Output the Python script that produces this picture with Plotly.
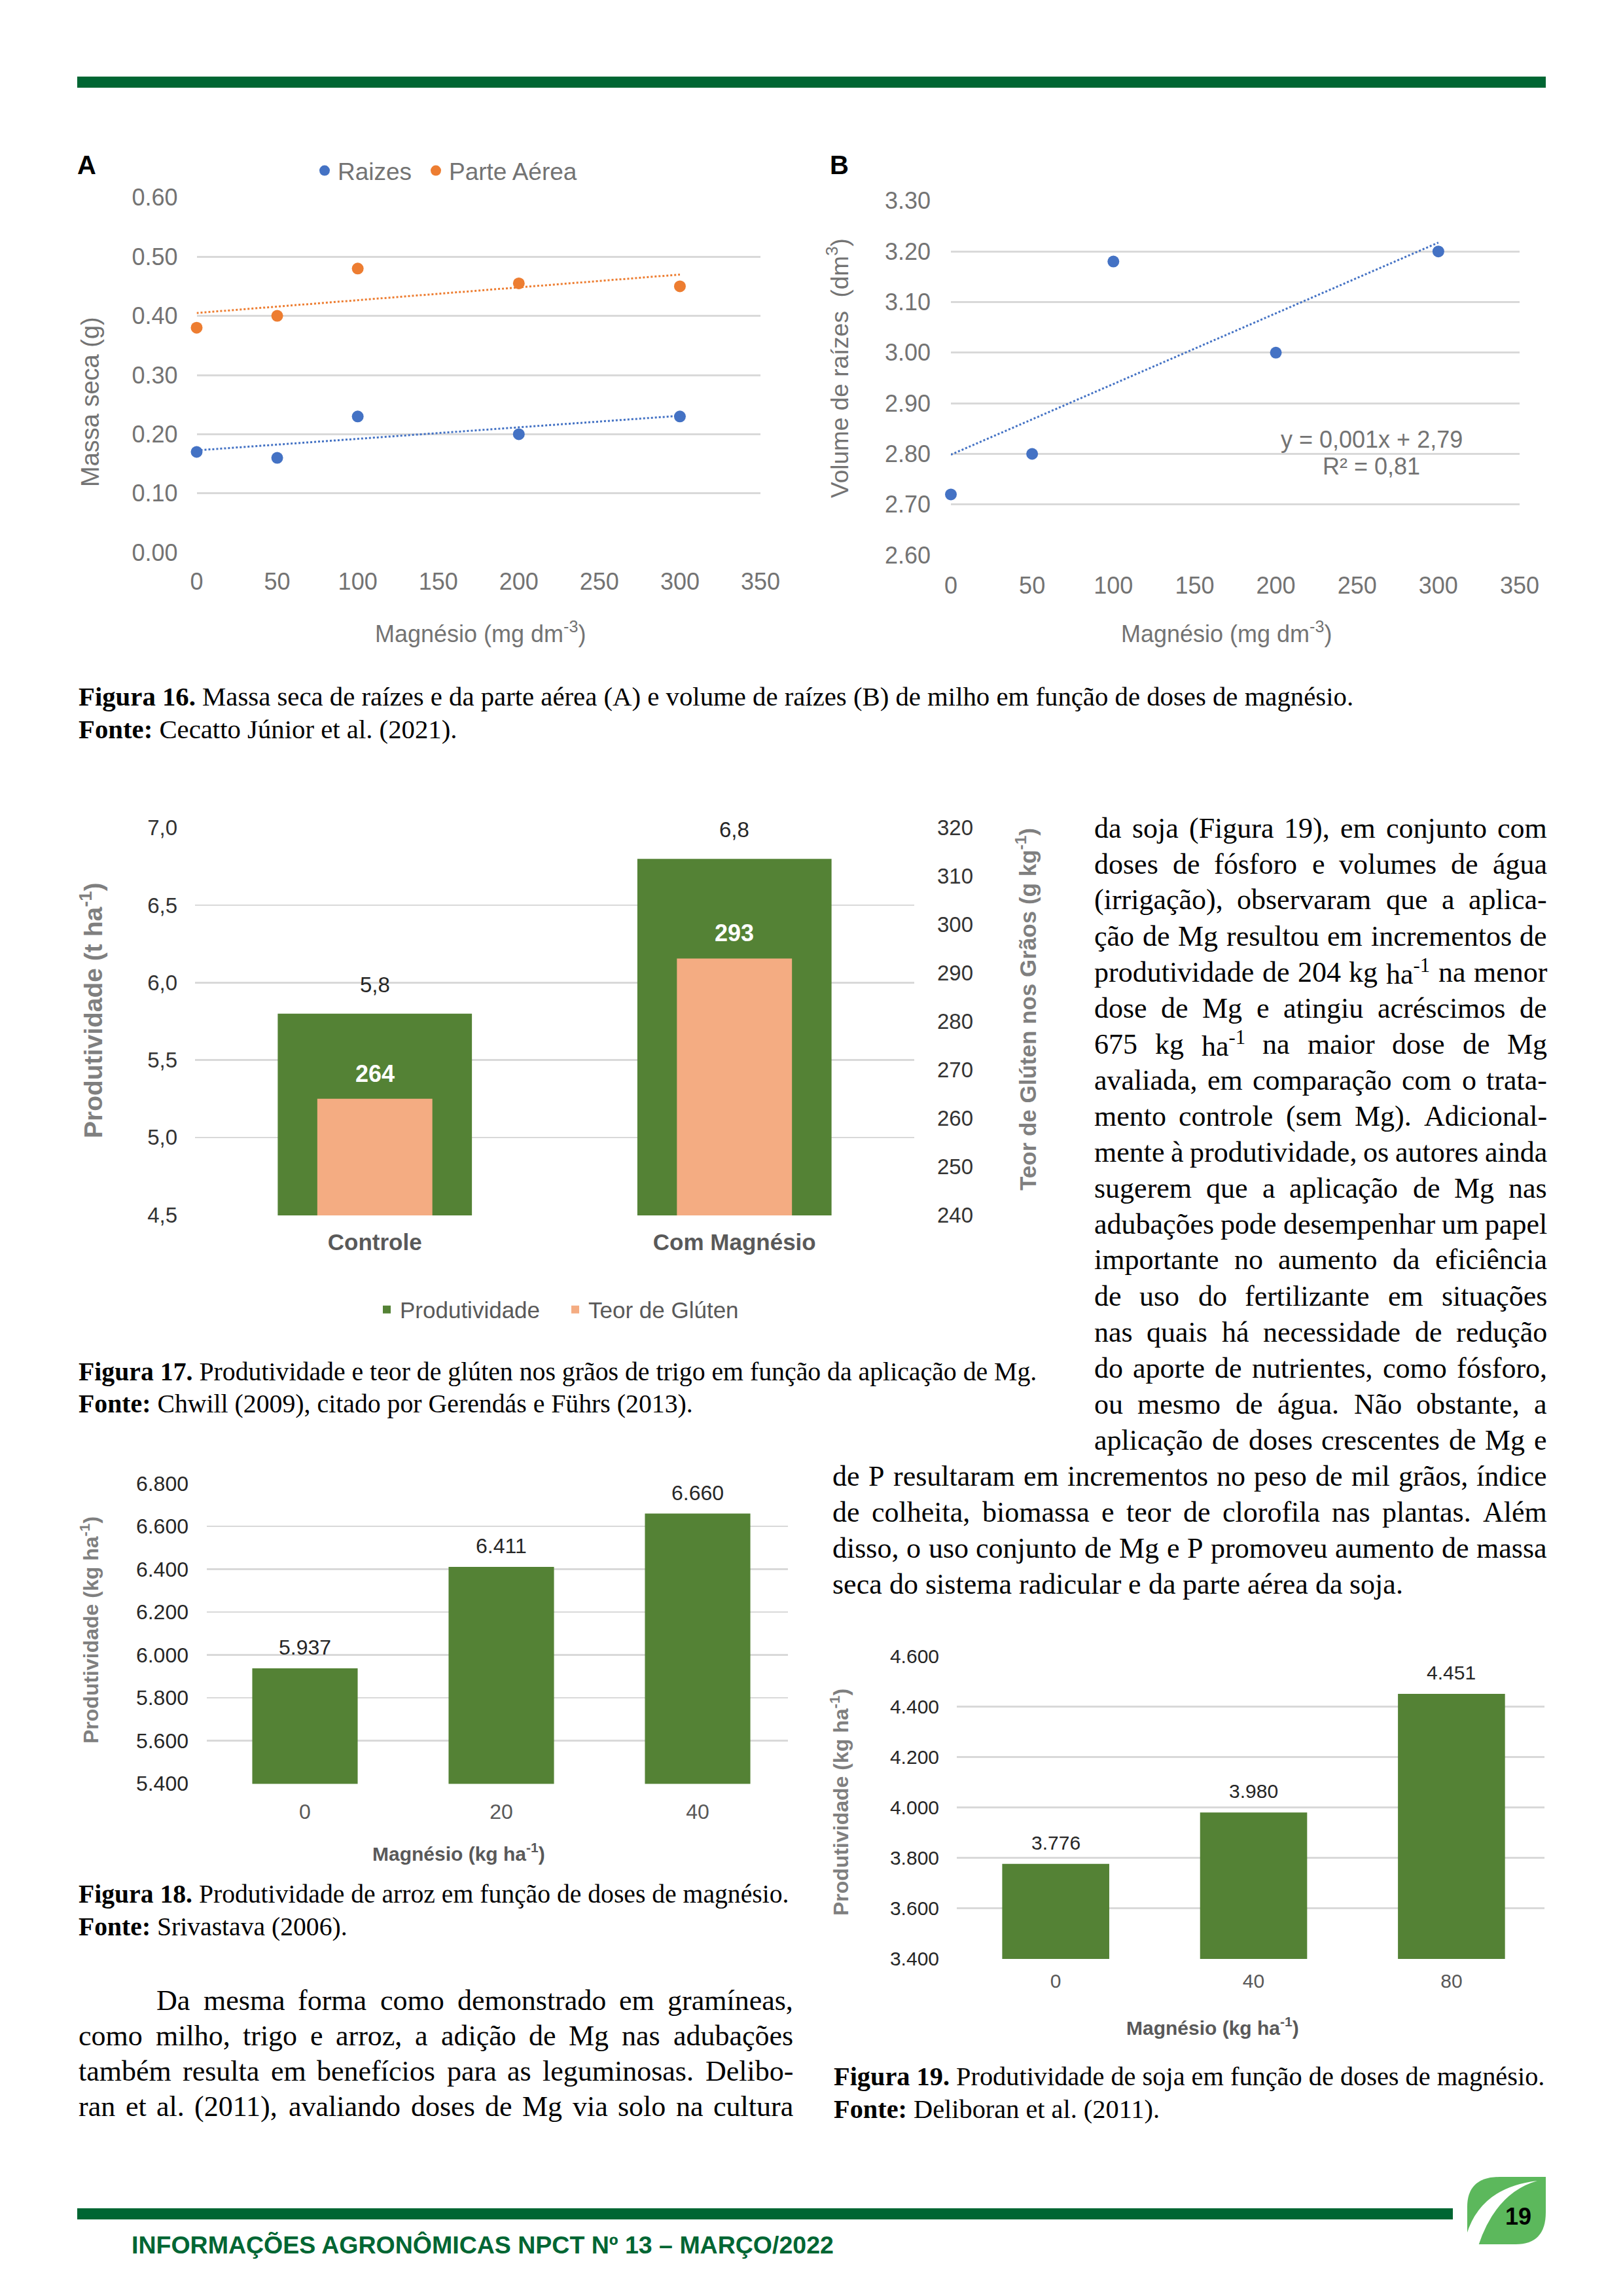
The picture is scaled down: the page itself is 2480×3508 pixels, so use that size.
import unicodedata
import numpy as np
import plotly.graph_objects as go

W, H = 2480, 3508

# ---------------- DATA ----------------
# Figura 16 A
mg_16 = [0, 50, 100, 200, 300]
raizes = [0.17, 0.16, 0.23, 0.20, 0.23]
parte_aerea = [0.38, 0.40, 0.48, 0.455, 0.45]
ticks_16a_y = [0.0, 0.1, 0.2, 0.3, 0.4, 0.5, 0.6]
ticks_16_x = [0, 50, 100, 150, 200, 250, 300, 350]
# Figura 16 B
volume_raizes = [2.72, 2.80, 3.18, 3.00, 3.20]
ticks_16b_y = [2.6, 2.7, 2.8, 2.9, 3.0, 3.1, 3.2, 3.3]
eq_b = "y = 0,001x + 2,79"
r2_b = "R² = 0,81"
# Figura 17
tratamentos = ["Controle", "Com Magnésio"]
produtividade_trigo = [5.8, 6.8]
teor_gluten = [264, 293]
ticks_17_left = [4.5, 5.0, 5.5, 6.0, 6.5, 7.0]
ticks_17_right = [240, 250, 260, 270, 280, 290, 300, 310, 320]
# Figura 18
doses_arroz = ["0", "20", "40"]
produtividade_arroz = [5937, 6411, 6660]
ticks_18_y = [5400, 5600, 5800, 6000, 6200, 6400, 6600, 6800]
# Figura 19
doses_soja = ["0", "40", "80"]
produtividade_soja = [3776, 3980, 4451]
ticks_19_y = [3400, 3600, 3800, 4000, 4200, 4400, 4600]

# ---------------- TEXT ----------------
body_right_narrow = [
    "da soja (Figura 19), em conjunto com",
    "doses de fósforo e volumes de água",
    "(irrigação), observaram que a aplica-",
    "ção de Mg resultou em incrementos de",
    "produtividade de 204 kg ha^-1 na menor",
    "dose de Mg e atingiu acréscimos de",
    "675 kg ha^-1 na maior dose de Mg",
    "avaliada, em comparação com o trata-",
    "mento controle (sem Mg). Adicional-",
    "mente à produtividade, os autores ainda",
    "sugerem que a aplicação de Mg nas",
    "adubações pode desempenhar um papel",
    "importante no aumento da eficiência",
    "de uso do fertilizante em situações",
    "nas quais há necessidade de redução",
    "do aporte de nutrientes, como fósforo,",
    "ou mesmo de água. Não obstante, a",
    "aplicação de doses crescentes de Mg e",
]
body_right_wide = [
    "de P resultaram em incrementos no peso de mil grãos, índice",
    "de colheita, biomassa e teor de clorofila nas plantas. Além",
    "disso, o uso conjunto de Mg e P promoveu aumento de massa",
    "seca do sistema radicular e da parte aérea da soja.",
]
body_left = [
    "Da mesma forma como demonstrado em gramíneas,",
    "como milho, trigo e arroz, a adição de Mg nas adubações",
    "também resulta em benefícios para as leguminosas. Delibo-",
    "ran et al. (2011), avaliando doses de Mg via solo na cultura",
]
captions = [
    ("Figura 16.", "Massa seca de raízes e da parte aérea (A) e volume de raízes (B) de milho em função de doses de magnésio.",
     "Cecatto Júnior et al. (2021).", 118, 2067, 1064, 1114),
    ("Figura 17.", "Produtividade e teor de glúten nos grãos de trigo em função da aplicação de Mg.",
     "Chwill (2009), citado por Gerendás e Führs (2013).", 118, 1583, 2096, 2145),
    ("Figura 18.", "Produtividade de arroz em função de doses de magnésio.",
     "Srivastava (2006).", 118, 1204, 2894, 2944),
    ("Figura 19.", "Produtividade de soja em função de doses de magnésio.",
     "Deliboran et al. (2011).", 1272, 2359, 3172, 3222),
]
footer_text = "INFORMAÇÕES AGRONÔMICAS NPCT Nº 13 – MARÇO/2022"
page_number = "19"

# ---------------- helpers ----------------
SANS = "Liberation Sans, Arial, sans-serif"
SERIF = "Liberation Serif, Times New Roman, serif"
GRID = "#d9d9d9"
GRAY_AB = "#737373"
BLUE = "#4472C4"
ORANGE = "#ED7D31"
GREEN_BAR = "#548235"
SALMON = "#F4AC82"
DARK_GREEN = "#006633"
LEAF = "#5CB85C"


def X(px):
    return px / W


def Y(py):
    return 1 - py / H


TIMES = {' ': 250, '!': 333, '(': 333, ')': 333, ',': 250, '-': 333, '.': 250, ':': 278, ';': 278,
         '/': 278, '0': 500, '1': 500, '2': 500, '3': 500, '4': 500, '5': 500, '6': 500, '7': 500,
         '8': 500, '9': 500,
         'A': 722, 'B': 667, 'C': 667, 'D': 722, 'E': 611, 'F': 556, 'G': 722, 'H': 722, 'I': 333,
         'J': 389, 'K': 722, 'L': 611, 'M': 889, 'N': 722, 'O': 722, 'P': 556, 'Q': 722, 'R': 667,
         'S': 556, 'T': 611, 'U': 722, 'V': 722, 'W': 944, 'X': 722, 'Y': 722, 'Z': 611,
         'a': 444, 'b': 500, 'c': 444, 'd': 500, 'e': 444, 'f': 333, 'g': 500, 'h': 500, 'i': 278,
         'j': 278, 'k': 500, 'l': 278, 'm': 778, 'n': 500, 'o': 500, 'p': 500, 'q': 500, 'r': 333,
         's': 389, 't': 278, 'u': 500, 'v': 500, 'w': 722, 'x': 500, 'y': 500, 'z': 444}
TIMES_B = dict(TIMES)
TIMES_B.update({'F': 611, 'g': 500, 'u': 556, 'r': 444, 'a': 500, 'n': 556, 't': 333, ':': 333})


def cw(c, table=TIMES):
    if c in table:
        return table[c]
    base = unicodedata.normalize('NFD', c)[0]
    return table.get(base, 500)


def text_em(s, table=TIMES):
    return sum(cw(c, table) for c in s) / 1000.0


def word_w(word, fs):
    if '^' in word:
        main, sup = word.split('^')
        return (text_em(main) + 0.7 * text_em(sup)) * fs
    return text_em(word) * fs


def word_html(word):
    if '^' in word:
        main, sup = word.split('^')
        return f"{main}<sup>{sup}</sup>"
    return word


annotations = []


def ann(text, x, y, size, color="#000000", family=SANS, xanchor="center", yanchor="middle", angle=0):
    annotations.append(dict(text=text, x=X(x), y=Y(y), xref="paper", yref="paper", showarrow=False,
                            xanchor=xanchor, yanchor=yanchor, textangle=angle,
                            font=dict(size=size, color=color, family=family)))


def place_line(line, x_left, x_right, y, fs, justify=True):
    words = line.split(' ')
    widths = [word_w(w, fs) for w in words]
    if justify and len(words) > 1:
        gap = (x_right - x_left - sum(widths)) / (len(words) - 1)
    else:
        gap = 0.25 * fs
    x = x_left
    for w, wd in zip(words, widths):
        ann(word_html(w), x, y, fs, "#000000", SERIF, xanchor="left")
        x += wd + gap


def axis(**kw):
    d = dict(showline=False, zeroline=False, ticks="", showgrid=False, fixedrange=True)
    d.update(kw)
    return d


def dom_x(a, b):
    return [X(a), X(b)]


def dom_y(bottom, top):
    return [Y(bottom), Y(top)]


fig = go.Figure()

# ---------------- Figura 16 A ----------------
fig.add_trace(go.Scatter(x=mg_16, y=raizes, mode="markers", name="Raizes", cliponaxis=False,
                         marker=dict(color=BLUE, size=18), xaxis="x", yaxis="y", legend="legend"))
fig.add_trace(go.Scatter(x=mg_16, y=parte_aerea, mode="markers", name="Parte Aérea", cliponaxis=False,
                         marker=dict(color=ORANGE, size=18), xaxis="x", yaxis="y", legend="legend3"))
for ys, col in ((raizes, BLUE), (parte_aerea, ORANGE)):
    k, b0 = np.polyfit(mg_16, ys, 1)
    xs = [mg_16[0], mg_16[-1]]
    fig.add_trace(go.Scatter(x=xs, y=[k * v + b0 for v in xs], mode="lines", showlegend=False,
                             line=dict(color=col, width=3, dash="dot"), xaxis="x", yaxis="y"))

# ---------------- Figura 16 B ----------------
k, b0 = np.polyfit(mg_16, volume_raizes, 1)
xs = [mg_16[0], mg_16[-1]]
fig.add_trace(go.Scatter(x=xs, y=[k * v + b0 for v in xs], mode="lines", showlegend=False,
                         line=dict(color=BLUE, width=3, dash="dot"), xaxis="x2", yaxis="y2"))
fig.add_trace(go.Scatter(x=mg_16, y=volume_raizes, mode="markers", showlegend=False, cliponaxis=False,
                         marker=dict(color=BLUE, size=18), xaxis="x2", yaxis="y2"))

# ---------------- Figura 17 ----------------
fig.add_trace(go.Bar(x=tratamentos, y=produtividade_trigo, name="Produtividade", width=0.54,
                     marker=dict(color=GREEN_BAR, line=dict(width=0)), xaxis="x3", yaxis="y3",
                     legend="legend2"))
fig.add_trace(go.Bar(x=tratamentos, y=teor_gluten, name="Teor de Glúten", width=0.32,
                     marker=dict(color=SALMON, line=dict(width=0)), xaxis="x3", yaxis="y4",
                     legend="legend2"))

# ---------------- Figura 18 ----------------
fig.add_trace(go.Bar(x=doses_arroz, y=produtividade_arroz, width=0.537, showlegend=False,
                     marker=dict(color=GREEN_BAR, line=dict(width=0)), xaxis="x5", yaxis="y5"))
# ---------------- Figura 19 ----------------
fig.add_trace(go.Bar(x=doses_soja, y=produtividade_soja, width=0.541, showlegend=False,
                     marker=dict(color=GREEN_BAR, line=dict(width=0)), xaxis="x6", yaxis="y6"))


def eps(lo, hi):
    e = (hi - lo) * 0.0015
    return [lo - e, hi + e]


legend_a_style = dict(orientation="h", y=Y(261), xanchor="left", yanchor="middle",
                      font=dict(size=37, color=GRAY_AB), bgcolor="rgba(0,0,0,0)", itemsizing="trace")

layout = dict(
    width=W, height=H, margin=dict(l=0, r=0, t=0, b=0, pad=0),
    paper_bgcolor="white", plot_bgcolor="rgba(0,0,0,0)",
    font=dict(family=SANS), template="none", barmode="overlay", hovermode=False,
    # A
    xaxis=axis(domain=dom_x(300.5, 1162), range=[0, 350], tickvals=ticks_16_x,
               ticktext=[str(v) for v in ticks_16_x], tickfont=dict(size=36, color=GRAY_AB),
               anchor="y", ticklabelstandoff=19),
    yaxis=axis(domain=dom_y(845, 301), range=eps(0, 0.6), tickvals=ticks_16a_y,
               ticktext=[f"{v:.2f}" for v in ticks_16a_y], tickfont=dict(size=36, color=GRAY_AB),
               showgrid=True, gridcolor=GRID, gridwidth=3, anchor="x", ticklabelstandoff=28),
    # B
    xaxis2=axis(domain=dom_x(1453, 2322), range=[0, 350], tickvals=ticks_16_x,
                ticktext=[str(v) for v in ticks_16_x], tickfont=dict(size=36, color=GRAY_AB),
                anchor="y2", ticklabelstandoff=21),
    yaxis2=axis(domain=dom_y(849, 306), range=eps(2.6, 3.3), tickvals=ticks_16b_y,
                ticktext=[f"{v:.2f}" for v in ticks_16b_y], tickfont=dict(size=36, color=GRAY_AB),
                showgrid=True, gridcolor=GRID, gridwidth=3, anchor="x2", ticklabelstandoff=30),
    # 17
    xaxis3=axis(domain=dom_x(298, 1397), range=[-0.5, 1.5], type="category",
                tickfont=dict(size=35, color="#595959", weight="bold"), anchor="y3",
                ticklabelstandoff=17),
    yaxis3=axis(domain=dom_y(1857, 1264), range=eps(4.5, 7.0), tickvals=ticks_17_left,
                ticktext=[f"{v:.1f}".replace(".", ",") for v in ticks_17_left],
                tickfont=dict(size=33, color="#333333"), showgrid=True, gridcolor=GRID, gridwidth=2.5,
                anchor="x3", ticklabelstandoff=26),
    yaxis4=axis(domain=dom_y(1857, 1264), range=eps(240, 320), tickvals=ticks_17_right,
                ticktext=[str(v) for v in ticks_17_right], tickfont=dict(size=33, color="#333333"),
                anchor="x3", overlaying="y3", side="right", ticklabelstandoff=34),
    # 18
    xaxis5=axis(domain=dom_x(316, 1204), range=[-0.5, 2.46], type="category",
                tickfont=dict(size=32, color="#595959"), anchor="y5", ticklabelstandoff=20),
    yaxis5=axis(domain=dom_y(2725.5, 2266), range=eps(5400, 6800), tickvals=ticks_18_y,
                ticktext=[f"{v:,}".replace(",", ".") for v in ticks_18_y],
                tickfont=dict(size=32, color="#262626"), showgrid=True, gridcolor=GRID, gridwidth=2.5,
                anchor="x5", ticklabelstandoff=27),
    # 19
    xaxis6=axis(domain=dom_x(1462, 2360), range=[-0.5, 2.47], type="category",
                tickfont=dict(size=30, color="#595959"), anchor="y6", ticklabelstandoff=13),
    yaxis6=axis(domain=dom_y(2993, 2530), range=eps(3400, 4600), tickvals=ticks_19_y,
                ticktext=[f"{v:,}".replace(",", ".") for v in ticks_19_y],
                tickfont=dict(size=30, color="#262626"), showgrid=True, gridcolor=GRID, gridwidth=2.5,
                anchor="x6", ticklabelstandoff=26),
    legend=dict(x=X(476), **legend_a_style),
    legend3=dict(x=X(646), **legend_a_style),
    legend2=dict(orientation="h", x=X(571), y=Y(2001), xanchor="left", yanchor="middle",
                 font=dict(size=35, color="#595959"), bgcolor="rgba(0,0,0,0)", traceorder="normal",
                 entrywidth=243, entrywidthmode="pixels"),
)
fig.update_layout(**layout)

# ---------------- chart texts ----------------
ann("<b>A</b>", 132, 252, 40)
ann("<b>B</b>", 1282, 252, 40)
ann("Massa seca (g)", 138, 614, 38, GRAY_AB, angle=-90)
ann("Magnésio (mg dm<sup>-3</sup>)", 734, 966, 36, GRAY_AB)
ann("Volume de raízes  (dm<sup>3</sup>)", 1280, 563, 37, GRAY_AB, angle=-90)
ann("Magnésio (mg dm<sup>-3</sup>)", 1874, 966, 36, GRAY_AB)
ann(eq_b, 2096, 671, 36, GRAY_AB)
ann(r2_b, 2095, 713, 36, GRAY_AB)

ann("<b>Produtividade (t ha<sup>-1</sup>)</b>", 140, 1544, 39, "#7f7f7f", angle=-90)
ann("<b>Teor de Glúten nos Grãos (g kg<sup>-1</sup>)</b>", 1568, 1542, 35, "#7f7f7f", angle=-90)
for i, v in enumerate(produtividade_trigo):
    annotations.append(dict(text=f"{v:.1f}".replace(".", ","), x=i, y=v, xref="x3", yref="y3",
                            showarrow=False, yanchor="bottom", yshift=24,
                            font=dict(size=33, color="#262626", family=SANS)))
for i, v in enumerate(teor_gluten):
    annotations.append(dict(text=f"<b>{v}</b>", x=i, y=v, xref="x3", yref="y4",
                            showarrow=False, yanchor="bottom", yshift=16,
                            font=dict(size=36, color="white", family=SANS)))

ann("<b>Produtividade (kg ha<sup>-1</sup>)</b>", 137, 2491, 32, "#7f7f7f", angle=-90)
ann("<b>Magnésio (kg ha<sup>-1</sup>)</b>", 701, 2830, 30, "#595959")
for i, v in enumerate(produtividade_arroz):
    annotations.append(dict(text=f"{v:,}".replace(",", "."), x=i, y=v, xref="x5", yref="y5",
                            showarrow=False, yanchor="bottom", yshift=12,
                            font=dict(size=32, color="#262626", family=SANS)))

ann("<b>Produtividade (kg ha<sup>-1</sup>)</b>", 1283, 2754, 32, "#7f7f7f", angle=-90)
ann("<b>Magnésio (kg ha<sup>-1</sup>)</b>", 1853, 3096, 30, "#595959")
for i, v in enumerate(produtividade_soja):
    annotations.append(dict(text=f"{v:,}".replace(",", "."), x=i, y=v, xref="x6", yref="y6",
                            showarrow=False, yanchor="bottom", yshift=14,
                            font=dict(size=30, color="#262626", family=SANS)))

# ---------------- captions ----------------
for lab, rest, fonte, x0, x1, y1, y2 in captions:
    em = text_em(lab, TIMES_B) + text_em(" " + rest)
    fs = (x1 - x0) / em
    ann(f"<b>{lab}</b> {rest}", x0, y1, fs, "#000000", SERIF, xanchor="left")
    ann(f"<b>Fonte:</b> {fonte}", x0, y2, fs, "#000000", SERIF, xanchor="left")

# ---------------- body text ----------------
FS = 44
for i, line in enumerate(body_right_narrow):
    place_line(line, 1670, 2362, 1265 + 55 * i, FS, True)
for i, line in enumerate(body_right_wide):
    place_line(line, 1270, 2362, 1265 + 55 * (len(body_right_narrow) + i), FS,
               i < len(body_right_wide) - 1)
for i, line in enumerate(body_left):
    place_line(line, 237 if i == 0 else 118, 1210, 3056 + 54 * i, FS, True)

# ---------------- footer ----------------
ann(f"<b>{footer_text}</b>", 199, 3430, 37.5, DARK_GREEN, SANS, xanchor="left")


def path_px(cmds):
    parts = []
    for letter, pts in cmds:
        if letter == 'Z':
            parts.append('Z')
            continue
        coords = [f"{X(pts[i]):.6f},{Y(pts[i + 1]):.6f}" for i in range(0, len(pts), 2)]
        parts.append(letter + " " + " ".join(coords))
    return " ".join(parts)


shapes = [
    dict(type="rect", xref="paper", yref="paper", x0=X(118), x1=X(2362), y0=Y(134), y1=Y(117),
         fillcolor=DARK_GREEN, line=dict(width=0), layer="above"),
    dict(type="rect", xref="paper", yref="paper", x0=X(118), x1=X(2220), y0=Y(3391), y1=Y(3374),
         fillcolor=DARK_GREEN, line=dict(width=0), layer="above"),
    dict(type="path", xref="paper", yref="paper", fillcolor=LEAF, line=dict(width=0), layer="above",
         path=path_px([('M', [2362, 3326]), ('L', [2362, 3380]), ('Q', [2362, 3429, 2316, 3429]),
                       ('L', [2242, 3429]), ('L', [2242, 3372]), ('Q', [2242, 3326, 2292, 3326]),
                       ('Z', [])])),
    dict(type="path", xref="paper", yref="paper", fillcolor="white", line=dict(width=0), layer="above",
         path=path_px([('M', [2241, 3414]), ('Q', [2263, 3342, 2349, 3332]),
                       ('Q', [2286, 3350, 2259, 3431]), ('L', [2241, 3431]), ('Z', [])])),
]
fig.update_layout(shapes=shapes)
ann(f"<b>{page_number}</b>", 2320, 3386, 36, "#000000", SANS)

fig.update_layout(annotations=annotations)

fig.write_html("out.html", config={"displayModeBar": False, "staticPlot": True},
               post_script=["document.body.style.margin='0';"])
